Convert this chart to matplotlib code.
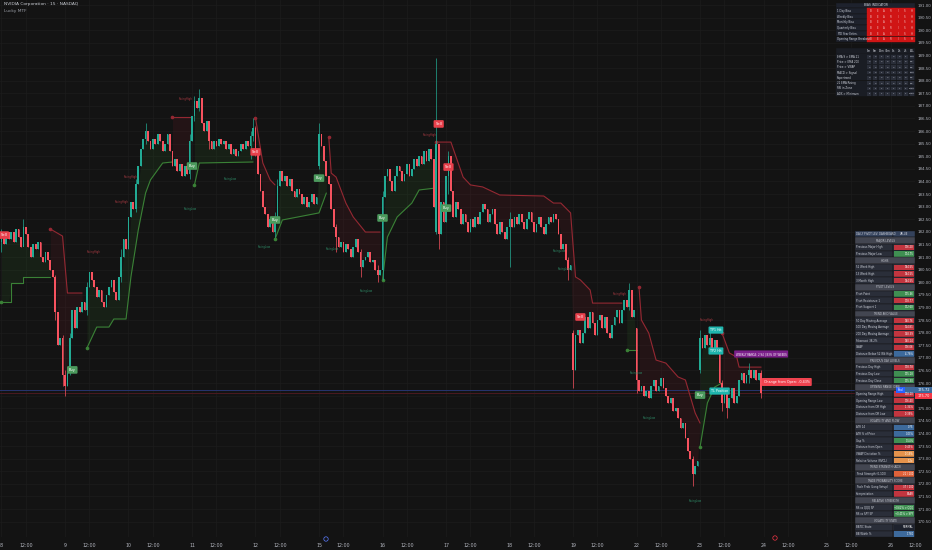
import numpy as np
import matplotlib
matplotlib.use("Agg")
import matplotlib.pyplot as plt
from matplotlib.patches import Rectangle, Circle

# ------------------------------------------------------------------ data
day_labels = ["8", "9", "10", "11", "12", "15", "16", "17", "18", "19", "22", "23", "24", "25", "26"]
bars_per_day = 26
noon_offset = 10

closes = [
    # Sep 8
    181.8, 181.5, 182.0, 181.7, 182.0, 181.6, 182.1, 181.8, 181.4, 182.2, 181.9, 181.4, 181.0,
    181.5, 181.3, 181.6, 181.0, 180.8, 181.2, 180.9, 180.5, 180.2, 178.8, 177.5, 177.8, 176.3,
    # Sep 9
    175.9, 176.4, 177.8, 178.9, 178.2, 179.0, 178.8, 179.2, 178.9, 179.8, 180.4, 180.1, 179.8,
    179.4, 179.7, 179.2, 179.0, 179.5, 179.8, 180.1, 179.6, 179.3, 180.2, 181.0, 181.7, 181.3,
    # Sep 10
    182.6, 183.2, 182.9, 183.9, 184.6, 185.3, 185.7, 186.0, 185.6, 185.3, 185.7, 185.5, 185.9,
    185.6, 185.2, 185.5, 185.9, 185.2, 184.6, 184.9, 184.4, 184.7, 184.2, 184.6, 184.3, 185.6,
    # Sep 11
    186.6, 187.2, 186.9, 187.3, 186.3, 186.0, 186.4, 185.6, 185.3, 185.6, 185.4, 185.7, 185.5,
    185.6, 185.3, 185.5, 185.1, 185.3, 185.0, 185.2, 185.5, 185.3, 185.6, 185.4, 185.8, 186.1,
    # Sep 12
    185.2, 184.3, 183.6, 183.0, 182.7, 182.2, 182.5, 182.0, 182.6, 183.8, 184.4, 184.0, 184.2,
    183.8, 184.1, 183.6, 183.4, 183.7, 183.5, 183.1, 183.4, 183.0, 183.2, 183.5, 183.1, 183.4,
    # Sep 15
    185.9, 185.4, 184.8, 184.2, 183.9, 182.9, 182.2, 181.8, 181.4, 181.6, 181.2, 181.5, 181.3,
    181.0, 181.4, 181.7, 181.2, 180.6, 180.9, 181.0, 181.2, 180.8, 180.9, 180.5, 180.3, 180.5,
    # Sep 16
    183.4, 184.2, 184.5, 184.0, 183.6, 184.2, 184.6, 184.4, 184.0, 184.3, 184.7, 184.2, 184.5,
    184.9, 184.6, 185.0, 184.7, 185.2, 184.8, 185.3, 184.9, 183.0, 185.5, 181.9, 183.2, 182.4,
    # Sep 17
    184.2, 185.0, 183.6, 182.6, 183.2, 182.9, 182.3, 182.7, 182.4, 182.0, 182.5, 182.2, 182.6,
    182.3, 182.8, 183.1, 182.9, 182.4, 182.7, 182.9, 182.3, 181.9, 182.4, 182.0, 181.7, 182.2,
    # Sep 18
    182.5, 182.2, 182.6, 182.3, 182.7, 182.4, 182.1, 182.5, 182.8, 182.4, 182.0, 182.3, 182.6,
    182.2, 181.9, 182.3, 182.6, 182.4, 182.7, 182.5, 181.9, 181.3, 181.5, 180.9, 180.5, 180.7,
    # Sep 19
    176.5, 177.9, 178.1, 177.6, 178.0, 178.6, 178.2, 178.8, 178.4, 177.9, 178.5, 178.7, 178.2,
    178.6, 178.0, 177.8, 178.3, 178.6, 178.9, 178.4, 178.9, 179.3, 179.0, 179.7, 178.6, 178.9,
    # Sep 22
    176.1, 175.7, 175.9, 175.5, 175.7, 175.4, 175.9, 176.1, 175.7, 175.9, 176.2, 175.8, 175.5,
    175.2, 175.4, 174.9, 175.0, 174.6, 174.2, 174.4, 173.8, 173.3, 173.0, 172.4, 172.7, 172.9,
    # Sep 23
    177.8, 177.4, 177.9, 177.5, 177.8, 177.3, 177.7, 177.2, 176.0, 175.2, 175.6, 175.0, 175.4,
    175.8, 175.2, 175.5, 176.1, 176.4, 176.0, 176.3, 176.5, 176.2, 176.5, 176.1, 176.4, 175.6,
]
first_open = 181.6
gap_opens = {130: 184.6, 178: 182.0, 234: 178.0, 260: 178.2, 286: 176.5}
wicks = {  # bar: (high, low)
    0: (182.1, 181.2), 9: (182.5, 181.7), 22: (180.3, 178.5), 25: (177.9, 175.9),
    26: (176.5, 175.5), 28: (178.0, 176.3), 35: (180.0, 178.7), 49: (181.3, 180.0),
    55: (184.1, 182.8), 59: (186.3, 185.5), 77: (185.9, 184.1), 79: (187.4, 186.4),
    81: (187.65, 186.8), 85: (186.4, 185.3), 102: (186.0, 184.9), 103: (186.5, 185.6),
    104: (186.2, 185.0), 112: (182.8, 181.8), 113: (184.1, 182.5), 130: (186.3, 184.5),
    137: (182.3, 181.2), 147: (181.3, 180.2), 154: (180.7, 180.0), 156: (183.6, 180.1),
    178: (188.9, 181.9), 179: (185.5, 181.3), 183: (185.2, 183.5), 208: (182.8, 180.6),
    232: (181.0, 180.1), 234: (178.1, 175.8), 257: (179.95, 178.9), 260: (178.2, 175.6),
    283: (173.1, 171.9), 286: (178.1, 176.4), 290: (178.2, 177.3), 295: (176.1, 174.9),
    297: (175.7, 174.6), 306: (176.8, 176.0), 311: (176.5, 175.4),
}

# trailing-stop lines: (bar, price) vertices
support_segments = [
    [(0, 179.21), (4, 179.21), (4, 179.97), (9, 179.97), (9, 180.21), (20, 180.21)],
    [(35, 177.39), (39, 178.22), (44, 178.22), (46, 178.54), (51, 178.54), (53, 180.21),
     (56, 182.07), (59, 183.54), (61, 184.06), (66, 184.73), (70, 184.77)],
    [(79, 183.86), (81, 184.73), (103, 184.77)],
    [(112, 181.71), (115, 182.47), (130, 182.75), (133, 183.54)],
    [(156, 180.09), (158, 181.79), (162, 182.59), (168, 183.14), (171, 183.66), (178, 183.74)],
    [(256, 177.31), (260, 177.31)],
    [(286, 173.46), (289, 175.21), (292, 175.84), (295, 176.0)],
]
resistance_segments = [
    [(20, 182.11), (25, 181.83), (27, 179.57), (33, 179.57)],
    [(70, 186.56), (78, 186.56)],
    [(104, 186.52), (107, 184.73), (110, 184.06), (112, 183.86)],
    [(134, 185.76), (135, 184.33), (137, 184.17), (141, 183.14), (144, 182.59), (149, 181.99),
     (155, 181.99)],
    [(178, 185.56), (184, 185.56), (189, 184.17), (192, 183.86), (197, 183.78), (204, 183.46),
     (222, 183.42), (226, 183.14), (229, 183.14), (233, 182.75), (235, 180.21), (237, 180.09),
     (241, 179.69), (242, 179.17), (254, 179.17)],
    [(261, 179.81), (262, 178.50), (265, 177.98), (268, 176.91), (272, 176.79), (277, 176.24),
     (280, 176.12), (284, 174.81), (286, 174.41)],
    [(295, 177.98), (298, 177.19), (301, 177.03), (302, 176.63), (311, 176.63)],
]

buy_signals = [(29, 176.52), (78, 184.61), (112, 182.47), (130, 184.13), (156, 182.55),
               (182, 182.94), (286, 175.52)]
sell_signals = [(1, 181.87), (104, 185.17), (179, 186.28), (183, 184.57), (237, 178.62)]
swing_highs = [(75.6, 187.27), (53, 184.17), (49.4, 183.18), (37.8, 181.20), (175.2, 185.84),
               (253.2, 179.53), (288.6, 178.5)]
swing_lows = [(77.2, 182.90), (93.6, 184.10), (107.7, 181.40), (135.4, 181.32), (149.5, 179.65),
              (228.3, 181.24), (230.3, 180.52), (260, 176.40), (265.3, 174.61), (284.2, 171.32)]
tp_tags = [(292.5, 178.1, "TP1 Hit"), (292.5, 177.27, "TP2 Hit"), (294, 175.68, "TL Position")]
weekly_tag = (311, 177.15, "WEEKLY RANGE: 2.94 | 83% OF WEEKS")
change_tag = (321.5, 176.04, "Change from Open: -0.43%")

last_price = 175.72
price_line_2 = 175.62

price_ticks = [170.5 + 0.5 * k for k in range(42)]

bias_rows = ["1 Day Bias", "Weekly Bias", "Monthly Bias", "Quarterly Bias", "YTD Year Estim.",
             "Opening Range Breakout"]
bias_vals = [["B", "E", "A", "R", "I", "S", "H"]] * 6
tf_cols = ["1m", "5m", "15m", "30m", "1h", "2h", "4h", "ALL"]
tf_rows = ["EMA 9 > EMA 21", "Price > EMA 200", "Price > VWAP", "MACD > Signal", "Supertrend",
           "21 EMA Rising", "RSI in Zone", "ADX > Minimum"]
tf_vals = [["0", "0", "1", "0", "0", "0", "1", "14%"],
           ["0", "0", "0", "0", "0", "0", "0", "0%"],
           ["0", "0", "0", "0", "0", "0", "0", "0%"],
           ["0", "0", "1", "0", "1", "1", "0", "43%"],
           ["0", "0", "0", "0", "0", "0", "0", "0%"],
           ["0", "0", "0", "0", "0", "0", "0", "0%"],
           ["1", "1", "1", "1", "1", "1", "1", "100%"],
           ["1", "1", "1", "1", "1", "1", "1", "100%"]]

dash_rows = [
    ("H", "DAILY PIVOT LEV. DASHBOARD", "VALUE", None),
    ("S", "MAJOR LEVELS", "", None),
    ("R", "Previous Major High", "176.20", "red"),
    ("R", "Previous Major Low", "174.75", "green"),
    ("S", "HIGHS", "", None),
    ("R", "52 Week High", "184.55", "red"),
    ("R", "13 Week High", "184.55", "red"),
    ("R", "3 Month High", "184.55", "red"),
    ("S", "PIVOT LEVELS", "", None),
    ("R", "Pivot Point", "175.46", "green"),
    ("R", "Pivot Resistance 1", "178.77", "red"),
    ("R", "Pivot Support 1", "172.60", "green"),
    ("S", "TREND AND VALUE", "", None),
    ("R", "50 Day Moving Average", "180.76", "red"),
    ("R", "100 Day Moving Average", "164.81", "red"),
    ("R", "200 Day Moving Average", "148.39", "red"),
    ("R", "Fibonacci 38.2%", "180.14", "red"),
    ("R", "VWAP", "176.06", "red"),
    ("R", "Distance Below 52 Wk High", "-4.78%", "blue"),
    ("S", "PREVIOUS DAY LEVELS", "", None),
    ("R", "Previous Day High", "178.78", "red"),
    ("R", "Previous Day Low", "175.18", "green"),
    ("R", "Previous Day Close", "175.30", "green"),
    ("S", "OPENING RANGE (ORB)", "", None),
    ("R", "Opening Range High", "178.10", "red"),
    ("R", "Opening Range Low", "176.40", "red"),
    ("R", "Distance from OR High", "-1.34%", "red"),
    ("R", "Distance from OR Low", "-0.39%", "red"),
    ("S", "VOLATILITY AND FLOW", "", None),
    ("R", "ATR 14", "0.75", "blue"),
    ("R", "ATR % of Price", "0.43%", "blue"),
    ("R", "Gap %", "1.54%", "green"),
    ("R", "Distance from Open", "-0.43%", "red"),
    ("R", "VWAP Deviation %", "-0.19%", "orange"),
    ("R", "Relative Volume (RVOL)", "1.2x", "orange"),
    ("S", "TREND STRENGTH (ADX)", "", None),
    ("R", "Trend Strength (0-100)", "21 / 100", "orangered"),
    ("S", "TRADE PROBABILITY SCORE", "", None),
    ("R", "Trade Prob (Long Setup)", "37 / 100", "red"),
    ("R", "Interpretation", "BEAR", "red"),
    ("S", "RELATIVE STRENGTH", "", None),
    ("R", "RS vs QQQ 5P", "+0.62% > QQQ", "green"),
    ("R", "RS vs SPY 5P", "+0.41% > SPY", "green"),
    ("S", "VOLATILITY STATE", "", None),
    ("R", "BB/KC State", "NORMAL", "dark"),
    ("R", "BB Width %", "1.780", "blue"),
]

# ------------------------------------------------------------------ style
BG = "#131313"
GRID = "#1c1c1c"
UP = "#22ab94"
DN = "#f7525f"
AXTXT = "#b2b5be"
CELL_COL = {"red": "#c2353f", "green": "#3f8f52", "blue": "#3d6a9c", "orange": "#e5934c",
            "orangered": "#e0623a", "dark": "#1e222d"}

W, H = 932, 550
PLOT_R, PLOT_B = 915, 537
PX_PER_BAR = 2.488
PX_PER_DOLLAR = 25.2
TOP_PRICE = 191.0 + 5 / PX_PER_DOLLAR
X_LEFT = -0.6

fig = plt.figure(figsize=(W / 100, H / 100), dpi=100)
fig.patch.set_facecolor(BG)
ax = fig.add_axes([0, (H - PLOT_B) / H, PLOT_R / W, PLOT_B / H])
ax.set_facecolor(BG)
ax.set_xlim(X_LEFT, X_LEFT + PLOT_R / PX_PER_BAR)
ax.set_ylim(TOP_PRICE - PLOT_B / PX_PER_DOLLAR, TOP_PRICE)
for s in ax.spines.values():
    s.set_visible(False)

# ticks and grid
xt, xl = [], []
for k, d in enumerate(day_labels):
    xt += [k * bars_per_day, k * bars_per_day + noon_offset]
    xl += [d, "12:00"]
ax.set_xticks(xt)
ax.set_xticklabels(xl)
ax.set_yticks(price_ticks)
ax.set_yticklabels([f"{p:.2f}" for p in price_ticks])
ax.yaxis.tick_right()
ax.tick_params(axis="both", length=0, colors=AXTXT)
ax.tick_params(axis="x", pad=4, labelsize=3.4)
ax.tick_params(axis="y", pad=1.5, labelsize=2.9)
ax.grid(True, color=GRID, lw=0.5)
ax.set_axisbelow(True)

# candles
n = len(closes)
xs = np.arange(n)
opens = [first_open] + closes[:-1]
opens = [gap_opens.get(i, o) for i, o in enumerate(opens)]
hi = [wicks[i][0] if i in wicks else max(opens[i], closes[i]) for i in range(n)]
lo = [wicks[i][1] if i in wicks else min(opens[i], closes[i]) for i in range(n)]
cols = [UP if c >= o else DN for o, c in zip(opens, closes)]
ax.vlines(xs, lo, hi, colors=cols, lw=0.5, zorder=3)
ax.bar(xs, np.array(closes) - np.array(opens), bottom=opens, width=0.72, color=cols,
       lw=0, zorder=4)

# trailing stop lines + fills
def draw_seg(seg, color, fillcol, above):
    bx = [p[0] for p in seg]
    by = [p[1] for p in seg]
    ax.plot(bx, by, color=color, lw=0.8, zorder=2.5, solid_capstyle="round")
    ax.plot([bx[0]], [by[0]], "o", ms=1.6, color=color, zorder=2.6)
    fx = np.arange(int(bx[0]), int(bx[-1]) + 1)
    line = np.interp(fx, bx, by)
    if above:
        body = np.array([min(opens[i], closes[i]) for i in fx])
        ax.fill_between(fx, line, np.maximum(body, line), color=fillcol, alpha=0.16, lw=0, zorder=1.5)
    else:
        body = np.array([max(opens[i], closes[i]) for i in fx])
        ax.fill_between(fx, line, np.minimum(body, line), color=fillcol, alpha=0.16, lw=0, zorder=1.5)

for seg in support_segments:
    draw_seg(seg, "#3a8136", "#2d6a2a", True)
for seg in resistance_segments:
    draw_seg(seg, "#942832", "#7a1f28", False)

# price lines
ax.axhline(last_price, color="#27346e", lw=0.7, zorder=1.8)
ax.axhline(price_line_2, color="#4a1a20", lw=0.7, zorder=1.8)

# signal labels
def box(xp, yp, text, fc, tc="white", fs=2.6, pad=0.5, z=6):
    ax.text(xp, yp, text, fontsize=fs, color=tc, ha="center", va="center", zorder=z,
            bbox=dict(boxstyle=f"round,pad={pad},rounding_size=0.3", fc=fc, ec="none"))

for bx_, by_ in buy_signals:
    box(bx_, by_, "Buy", "#4c9a5d")
for bx_, by_ in sell_signals:
    box(bx_, by_, "Sell", "#e8404b")
for bx_, by_ in swing_highs:
    ax.text(bx_, by_, "SwingHigh", fontsize=1.9, color="#a83a42", ha="center", va="center", zorder=5)
for bx_, by_ in swing_lows:
    ax.text(bx_, by_, "SwingLow", fontsize=1.9, color="#2f8f6a", ha="center", va="center", zorder=5)
for bx_, by_, t in tp_tags:
    box(bx_, by_, t, "#1fb5ad", fs=2.3)
box(weekly_tag[0], weekly_tag[1], weekly_tag[2], "#7b1f8a", fs=1.9, pad=0.6)
box(change_tag[0], change_tag[1], change_tag[2], "#f0434f", fs=2.4, pad=0.6)

# ------------------------------------------------------------------ overlay (pixel coords)
ov = fig.add_axes([0, 0, 1, 1])
ov.set_xlim(0, W)
ov.set_ylim(H, 0)
ov.axis("off")
ov.patch.set_alpha(0)

ov.text(4, 4.5, "NVIDIA Corporation · 15 · NASDAQ", fontsize=3.2, color="#c9ccd3", va="center")
ov.text(4, 11, "Lucky MTF", fontsize=3.2, color="#9a9da6", va="center")

def cell(x0, y0, w, h, fc, text="", tc="#d1d4dc", fs=2.2, ha="left", ec=BG):
    ov.add_patch(Rectangle((x0, y0), w, h, fc=fc, ec=ec, lw=0.3))
    if text:
        tx = x0 + 1 if ha == "left" else (x0 + w / 2 if ha == "center" else x0 + w - 1)
        ov.text(tx, y0 + h / 2, text, fontsize=fs, color=tc, ha=ha, va="center")

# bias table
tx0, tx1 = 836, 915
cell(tx0, 3, tx1 - tx0, 5, "#1e222d", "BIAS INDICATOR", fs=2.2, ha="center")
rh = 5.7
for r, lab in enumerate(bias_rows):
    y0 = 8 + r * rh
    cell(tx0, y0, 31, rh, "#1e222d", lab, fs=1.9)
    cw = (tx1 - 867) / 7
    for c in range(7):
        cell(867 + c * cw, y0, cw, rh, "#d01515", bias_vals[r][c], tc="#f0c0c0", fs=1.9,
             ha="center", ec="#d01515")
# timeframe table
y0 = 48
cell(tx0, y0, tx1 - tx0, 6, "#1a1d24")
cw = (tx1 - 866) / len(tf_cols)
for c, t in enumerate(tf_cols):
    ov.text(866 + (c + 0.5) * cw, y0 + 3, t, fontsize=1.9, color="#d1d4dc", ha="center", va="center")
for r, lab in enumerate(tf_rows):
    yy = y0 + 6 + r * 5.3
    cell(tx0, yy, tx1 - tx0, 5.3, "#1a1d24", lab, fs=1.9, ec="#1a1d24")
    for c in range(len(tf_cols)):
        ov.add_patch(Rectangle((866 + c * cw + 0.8, yy + 0.8), cw - 1.6, 3.7, fc="#2a2e39", ec="none"))
        ov.text(866 + (c + 0.5) * cw, yy + 2.65, tf_vals[r][c], fontsize=1.6, color="#d1d4dc",
                ha="center", va="center")

# dashboard table
dx0, dxm, dx1 = 855, 893, 915
dy0 = 230.7
drh = (537.3 - dy0) / len(dash_rows)
for r, (kind, lab, val, col) in enumerate(dash_rows):
    yy = dy0 + r * drh
    if kind == "H":
        cell(dx0, yy, dxm - dx0, drh, "#34425c", lab, fs=1.9)
        cell(dxm, yy, dx1 - dxm, drh, "#34425c", val, fs=1.9, ha="center")
    elif kind == "S":
        cell(dx0, yy, dx1 - dx0, drh, "#434651", lab, fs=1.9, ha="center", tc="#c3c6ce")
    else:
        cell(dx0, yy, dxm - dx0, drh, "#2a2e39", lab, fs=1.9)
        cell(dxm, yy, dx1 - dxm, drh, "#2a2e39")
        ov.add_patch(Rectangle((dxm + 0.8, yy + 0.7), dx1 - dxm - 1.6, drh - 1.4,
                               fc=CELL_COL[col], ec="none"))
        ov.text(dx1 - 1.5, yy + drh / 2, val, fontsize=1.8, color="white", ha="right", va="center")

# price tags on scale
def price_y(p):
    return (TOP_PRICE - p) * PX_PER_DOLLAR

yl = price_y(last_price)
ov.add_patch(Rectangle((896, yl - 3.2), 9, 5.8, fc="#2962ff", ec="none"))
ov.text(900.5, yl - 0.3, "Real", fontsize=1.9, color="white", ha="center", va="center")
ov.add_patch(Rectangle((905, yl - 3.2), 27, 5.8, fc="#3d6a9c", ec="none"))
ov.text(923.5, yl - 0.3, f"{last_price:.2f}", fontsize=2.6, color="white", ha="center", va="center")
yl2 = yl + 5.8
ov.add_patch(Rectangle((915, yl2 - 2.7), 17, 5.6, fc="#f23645", ec="none"))
ov.text(923.5, yl2, "175.70", fontsize=2.5, color="white", ha="center", va="center")

# event markers on time axis
ov.add_patch(Circle((326, 539), 2.2, fc="none", ec="#5b7cff", lw=0.5))
ov.add_patch(Circle((775, 538), 2.2, fc="none", ec="#f23645", lw=0.5))

fig.savefig("out.png", dpi=100, facecolor=BG)
